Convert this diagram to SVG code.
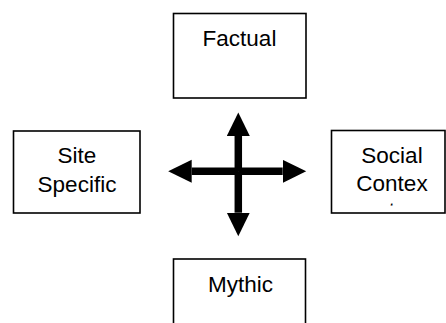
<svg xmlns="http://www.w3.org/2000/svg" width="446" height="323" viewBox="0 0 446 323">
<style>
.box{fill:#fff;stroke:#000;stroke-width:1.6}
.lbl{font-family:"Liberation Sans",Arial,sans-serif;font-size:22.5px;fill:#000;text-anchor:middle}
.arw{stroke:#000;stroke-width:7.5;fill:none;marker-end:url(#head)}
</style>
<defs>
<marker id="head" markerUnits="userSpaceOnUse" markerWidth="24" markerHeight="24" viewBox="0 0 24 24" refX="0" refY="11.5" orient="auto">
<path d="M0,0 L23.5,11.5 L0,23 Z" fill="#000"/>
</marker>
<clipPath id="socialClip"><rect x="332" y="131" width="112" height="74.5"/></clipPath>
</defs>
<rect width="446" height="323" fill="#fff"/>
<g id="factual">
<rect class="box" x="173.5" y="13.5" width="132.5" height="84.5"/>
<text class="lbl" x="239.5" y="46">Factual</text>
</g>
<g id="site-specific">
<rect class="box" x="13.5" y="131" width="126.5" height="82"/>
<text class="lbl" x="77" y="163.3">Site</text>
<text class="lbl" x="77" y="191.7">Specific</text>
</g>
<g id="social-context">
<rect class="box" x="331.5" y="130.5" width="113.5" height="82.5"/>
<g clip-path="url(#socialClip)">
<text class="lbl" x="392" y="163">Social</text>
<text class="lbl" x="392" y="190.5">Contex</text>
<text class="lbl" x="392" y="218">t</text>
</g>
</g>
<g id="mythic">
<rect class="box" x="173.5" y="259" width="132" height="80"/>
<text class="lbl" x="240.5" y="292">Mythic</text>
</g>
<g id="connectors">
<line class="arw" x1="238.3" y1="171.3" x2="238.3" y2="136"/>
<line class="arw" x1="238.3" y1="171.3" x2="238.3" y2="212.7"/>
<line class="arw" x1="238.3" y1="171.3" x2="191.7" y2="171.3"/>
<line class="arw" x1="238.3" y1="171.3" x2="282.7" y2="171.3"/>
</g>
</svg>
